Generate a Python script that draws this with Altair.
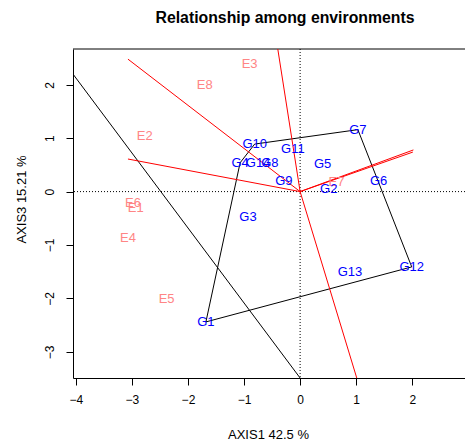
import altair as alt
import pandas as pd

FONT = "Liberation Sans"

# Genotype scores
gen_names = ["G1", "G2", "G3", "G4", "G5", "G6", "G7", "G8", "G9", "G10", "G11", "G12", "G13", "G14"]
gen_x = [-1.68, 0.51, -0.93, -1.07, 0.40, 1.40, 1.03, -0.54, -0.29, -0.81, -0.13, 1.99, 0.89, -0.75]
gen_y = [-2.44, 0.05, -0.47, 0.54, 0.52, 0.20, 1.16, 0.54, 0.20, 0.89, 0.80, -1.41, -1.51, 0.54]

# Environment labels
env_names = ["E1", "E2", "E3", "E4", "E5", "E6", "E7", "E8"]
env_x = [-2.93, -2.77, -0.90, -3.07, -2.38, -2.98, 0.65, -1.70]
env_y = [-0.31, 1.05, 2.39, -0.87, -2.01, -0.21, 0.18, 2.00]

# Polygon (convex hull) vertex order
hull_order = ["G1", "G4", "G10", "G7", "G12", "G1"]

# Environment vectors from origin (end points)
vec_x = [-3.07, -3.07, -0.40, 1.01, 2.02, 2.01]
vec_y = [2.48, 0.61, 2.68, -3.49, 0.78, 0.74]

# Black straight line end points
bl_x = [-4.05, 0.0]
bl_y = [2.20, -3.49]

x_ticks = [-4, -3, -2, -1, 0, 1, 2]
y_ticks = [-3, -2, -1, 0, 1, 2]

gen_df = pd.DataFrame({"name": gen_names, "x": gen_x, "y": gen_y})
env_df = pd.DataFrame({"name": env_names, "x": env_x, "y": env_y})

lookup = dict(zip(gen_names, zip(gen_x, gen_y)))
hull_df = pd.DataFrame({
    "ord": list(range(len(hull_order))),
    "x": [lookup[n][0] for n in hull_order],
    "y": [lookup[n][1] for n in hull_order],
})

vec_rows = []
for i, (vx, vy) in enumerate(zip(vec_x, vec_y)):
    vec_rows.append({"id": i, "ord": 0, "x": 0.0, "y": 0.0})
    vec_rows.append({"id": i, "ord": 1, "x": vx, "y": vy})
vec_df = pd.DataFrame(vec_rows)

bl_df = pd.DataFrame({"ord": [0, 1], "x": bl_x, "y": bl_y})

xs = alt.Scale(domain=[-4.05, 2.94], nice=False, zero=False)
ys = alt.Scale(domain=[-3.49, 2.67], nice=False, zero=False)

x_axis = alt.Axis(values=x_ticks, title="AXIS1 42.5 %", grid=False, tickSize=7,
                  labelFontSize=12, labelPadding=9, labelFont=FONT, titleFont=FONT,
                  titleFontSize=13, titleFontWeight="normal", titleX=195, titleY=60,
                  titleBaseline="alphabetic", titleAlign="center",
                  domainColor="black", tickColor="black", labelColor="black", titleColor="black")
y_axis = alt.Axis(values=y_ticks, title="AXIS3 15.21 %", grid=False, tickSize=7,
                  labelFontSize=12, labelPadding=10, labelFont=FONT, titleFont=FONT,
                  labelAngle=270, labelAlign="center", labelBaseline="bottom",
                  titleFontSize=13, titleFontWeight="normal", titleAngle=270,
                  titleX=-48, titleY=150, titleBaseline="alphabetic", titleAlign="center",
                  domainColor="black", tickColor="black", labelColor="black", titleColor="black")

base_x = alt.X("x:Q", scale=xs, axis=x_axis)
base_y = alt.Y("y:Q", scale=ys, axis=y_axis)

zero_df = pd.DataFrame({"z": [0]})
vzero = alt.Chart(zero_df).mark_rule(color="black", strokeDash=[1, 2], strokeWidth=1).encode(
    x=alt.X("z:Q", scale=xs, axis=x_axis))
hzero = alt.Chart(zero_df).mark_rule(color="black", strokeDash=[1, 2], strokeWidth=1).encode(
    y=alt.Y("z:Q", scale=ys, axis=y_axis))

top_border = alt.Chart(zero_df).mark_rule(color="black", strokeWidth=1).encode(y=alt.value(0))

black_line = alt.Chart(bl_df).mark_line(color="black", strokeWidth=1, clip=True).encode(
    x=base_x, y=base_y, order="ord:O")

hull = alt.Chart(hull_df).mark_line(color="black", strokeWidth=1, clip=True).encode(
    x=base_x, y=base_y, order="ord:O")

vectors = alt.Chart(vec_df).mark_line(color="red", strokeWidth=1, clip=True).encode(
    x=base_x, y=base_y, detail="id:N", order="ord:O")

origin = alt.Chart(zero_df).mark_point(color="red", size=6, filled=True, shape="cross").encode(
    x=alt.X("z:Q", scale=xs, axis=x_axis), y=alt.Y("z:Q", scale=ys, axis=y_axis))

env_text = alt.Chart(env_df).mark_text(color="#FF8585", fontSize=13, font=FONT,
                                       align="center", baseline="middle").encode(
    x=base_x, y=base_y, text="name:N")

gen_text = alt.Chart(gen_df).mark_text(color="#0000FF", fontSize=13, font=FONT,
                                       align="center", baseline="middle").encode(
    x=base_x, y=base_y, text="name:N")

chart = alt.layer(
    vzero, hzero, top_border, black_line, hull, vectors, origin, env_text, gen_text
).properties(
    width=392,
    height=329,
    title=alt.TitleParams("Relationship among environments", font=FONT, fontSize=15.8,
                          fontWeight="bold", anchor="middle", dx=16, offset=10,
                          baseline="alphabetic", color="black"),
    padding={"left": 73, "top": 49, "right": 0, "bottom": 62},
    autosize=alt.AutoSizeParams(type="none"),
    background="white",
).configure_view(stroke=None)

chart.save("out.html", embed_options={"renderer": "svg", "actions": False})
